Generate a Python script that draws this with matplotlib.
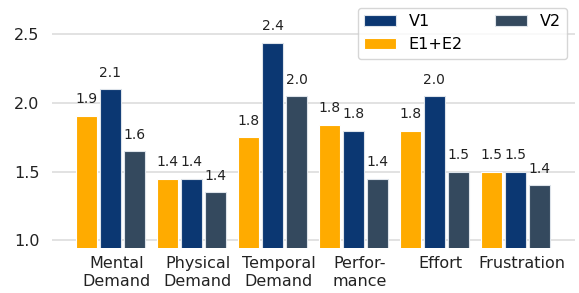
import numpy as np
import matplotlib
matplotlib.use("Agg")
from matplotlib import pyplot as plt

categories = ["Mental\nDemand", "Physical\nDemand", "Temporal\nDemand",
              "Perfor-\nmance", "Effort", "Frustration"]
e1e2 = [1.905, 1.45, 1.75, 1.84, 1.80, 1.50]
v1 = [2.10, 1.45, 2.44, 1.80, 2.05, 1.50]
v2 = [1.65, 1.35, 2.05, 1.45, 1.50, 1.40]

c_e = "#ffab00"
c_v1 = "#0b3772"
c_v2 = "#34495e"

fig = plt.figure(figsize=(5.79, 2.93), dpi=100)
ax = fig.add_axes([0.0898, 0.1536, 0.9032, 0.8464])

x = np.arange(len(categories))
w = 0.26
step = 0.3

b1 = ax.bar(x - step, e1e2, w, color=c_e, edgecolor="white", linewidth=0.8, label="E1+E2", zorder=3)
b2 = ax.bar(x, v1, w, color=c_v1, edgecolor="#dde3ea", linewidth=0.8, label="V1", zorder=3)
b3 = ax.bar(x + step, v2, w, color=c_v2, edgecolor="#dde3ea", linewidth=0.8, label="V2", zorder=3)

for bars in (b1, b2, b3):
	for b in bars:
		h = b.get_height()
		ax.text(b.get_x() + b.get_width()/2, h + 0.07, "%.1f" % h,
				ha="center", va="bottom", fontsize=10, color="#222222")

ax.set_xlim(-0.722, 5.735)
ax.set_ylim(0.945, 2.75)
ax.set_yticks([1.0, 1.5, 2.0, 2.5])
ax.set_yticklabels(["1.0", "1.5", "2.0", "2.5"])
ax.set_xticks(x + 0.075)
ax.set_xticklabels(categories)
ax.tick_params(axis="both", length=0, labelsize=11.5, colors="#222222")
ax.tick_params(axis="y", pad=9)
ax.tick_params(axis="x", pad=6)
ax.grid(axis="y", color="#dddddd", linewidth=1.2, zorder=0)
ax.set_axisbelow(True)
for s in ax.spines.values():
	s.set_visible(False)

leg = ax.legend([b2, b1, b3], ["V1", "E1+E2", "V2"], ncol=2, loc="upper right",
				fontsize=11.5, frameon=True, fancybox=True, edgecolor="#cccccc")
leg.get_frame().set_linewidth(1.0)

fig.savefig("out.png", dpi=100)
